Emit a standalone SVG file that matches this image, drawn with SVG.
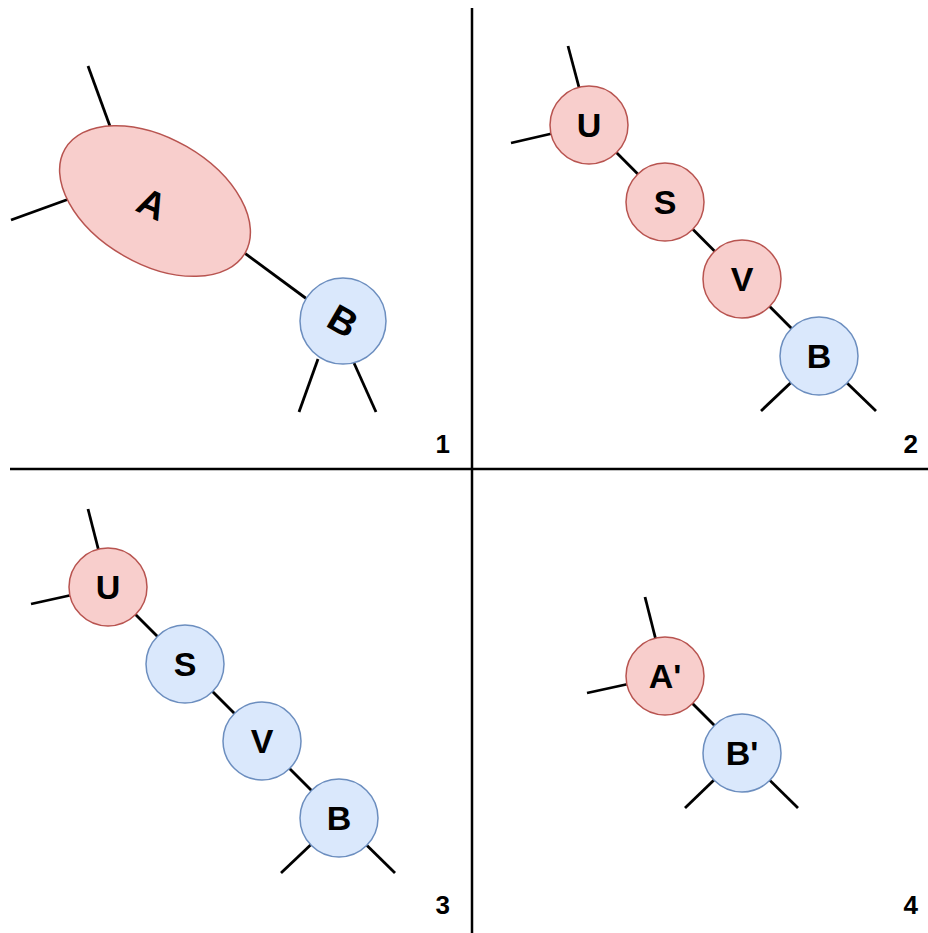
<svg xmlns="http://www.w3.org/2000/svg" width="928" height="933" viewBox="0 0 928 933">
<style>
.red{fill:#f8cecc;stroke:#b85450;stroke-width:1.5}
.blue{fill:#dae8fc;stroke:#6c8ebf;stroke-width:1.5}
.lbl{font-family:"Liberation Sans",Arial,sans-serif;font-weight:bold;font-size:34px;text-anchor:middle;fill:#000}
.big{font-size:38px}
.num{font-family:"Liberation Sans",Arial,sans-serif;font-weight:bold;font-size:26px;text-anchor:end;fill:#000}
.e{stroke:#000;stroke-width:2.8;fill:none}
.div{stroke:#000;stroke-width:2.5}
</style>
<rect width="928" height="933" fill="#fff"/>
<g id="dividers">
<line class="div" x1="472" y1="8" x2="472" y2="933"/>
<line class="div" x1="10" y1="469" x2="928" y2="469"/>
</g>
<g id="connectors">
<line class="e" x1="88" y1="66" x2="115" y2="140"/>
<line class="e" x1="11" y1="220" x2="80" y2="195"/>
<line class="e" x1="235" y1="246" x2="315" y2="305"/>
<line class="e" x1="318" y1="359" x2="299" y2="412"/>
<line class="e" x1="354" y1="363" x2="376" y2="412"/>
<line class="e" x1="568" y1="46" x2="589" y2="125"/>
<line class="e" x1="511" y1="143" x2="589" y2="125"/>
<line class="e" x1="589" y1="125" x2="819" y2="356"/>
<line class="e" x1="761" y1="411" x2="819" y2="356"/>
<line class="e" x1="876" y1="411" x2="819" y2="356"/>
<line class="e" x1="88" y1="509" x2="108" y2="587"/>
<line class="e" x1="31" y1="604" x2="108" y2="587"/>
<line class="e" x1="108" y1="587" x2="339" y2="818"/>
<line class="e" x1="281" y1="873" x2="339" y2="818"/>
<line class="e" x1="395" y1="873" x2="339" y2="818"/>
<line class="e" x1="645" y1="597" x2="665" y2="676"/>
<line class="e" x1="587" y1="693" x2="665" y2="676"/>
<line class="e" x1="665" y1="676" x2="742" y2="753"/>
<line class="e" x1="685" y1="808" x2="742" y2="753"/>
<line class="e" x1="798" y1="808" x2="742" y2="753"/>
</g>
<g id="p1-A">
<ellipse class="red" cx="0" cy="0" rx="104" ry="63" transform="translate(155,201) rotate(30)"/>
<text class="lbl big" transform="translate(152,204) rotate(25)" x="0" y="13">A</text>
</g>
<g id="p1-B">
<circle class="blue" cx="343" cy="321" r="43"/>
<text class="lbl big" transform="translate(343,321) rotate(30)" x="0" y="13">B</text>
</g>
<g id="p2-U"><circle class="red" cx="589" cy="125" r="39"/><text class="lbl" x="589" y="137">U</text></g>
<g id="p2-S"><circle class="red" cx="665" cy="202" r="39"/><text class="lbl" x="665" y="214">S</text></g>
<g id="p2-V"><circle class="red" cx="742" cy="279" r="39"/><text class="lbl" x="742" y="291">V</text></g>
<g id="p2-B"><circle class="blue" cx="819" cy="356" r="39"/><text class="lbl" x="819" y="368">B</text></g>
<g id="p3-U"><circle class="red" cx="108" cy="587" r="39"/><text class="lbl" x="108" y="599">U</text></g>
<g id="p3-S"><circle class="blue" cx="185" cy="664" r="39"/><text class="lbl" x="185" y="676">S</text></g>
<g id="p3-V"><circle class="blue" cx="262" cy="741" r="39"/><text class="lbl" x="262" y="753">V</text></g>
<g id="p3-B"><circle class="blue" cx="339" cy="818" r="39"/><text class="lbl" x="339" y="830">B</text></g>
<g id="p4-A"><circle class="red" cx="665" cy="676" r="39"/><text class="lbl" x="665" y="688">A'</text></g>
<g id="p4-B"><circle class="blue" cx="742" cy="753" r="39"/><text class="lbl" x="742" y="765">B'</text></g>
<g id="labels">
<text class="num" x="450" y="453">1</text>
<text class="num" x="918" y="453">2</text>
<text class="num" x="450" y="914">3</text>
<text class="num" x="918" y="914">4</text>
</g>
</svg>
